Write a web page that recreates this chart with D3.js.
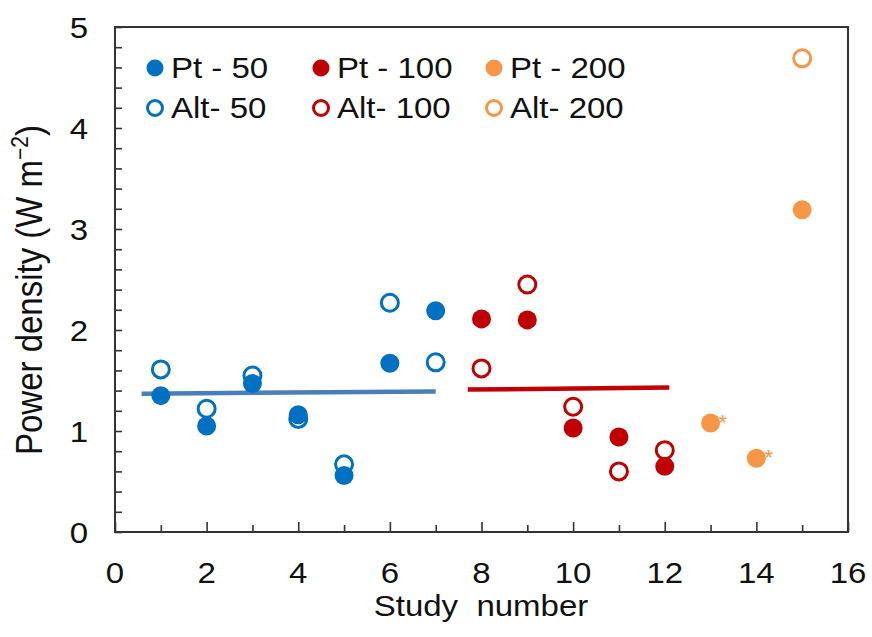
<!DOCTYPE html>
<html>
<head>
<meta charset="utf-8">
<script src="https://cdn.jsdelivr.net/npm/d3@7"></script>
<style>
  body { margin: 0; background: #fff; }
  text { font-family: "Liberation Sans", Arial, sans-serif; fill: #111; }
</style>
</head>
<body>
<svg id="grafico"></svg>
<script>
// dados
const estudos50 = [1, 2, 3, 4, 5, 6, 7]
const pt50 = [1.35, 1.05, 1.47, 1.16, 0.56, 1.67, 2.19]
const alt50 = [1.61, 1.22, 1.55, 1.12, 0.67, 2.27, 1.68]
const estudos100 = [8, 9, 10, 11, 12]
const pt100 = [2.11, 2.10, 1.03, 0.94, 0.65]
const alt100 = [1.62, 2.45, 1.24, 0.60, 0.81]
const estudos200 = [13, 14, 15]
const pt200 = [1.08, 0.73, 3.19]
const alt200 = [null, null, 4.69]
const asterisco200 = [13, 14]
// linhas de média
const media50 = [{x: 0.58, y: 1.37}, {x: 7.0, y: 1.39}]
const media100 = [{x: 7.7, y: 1.41}, {x: 12.1, y: 1.43}]
const ticksX = [0, 2, 4, 6, 8, 10, 12, 14, 16]
const ticksY = [0, 1, 2, 3, 4, 5]

const cores = {c50: '#0070C0', l50: '#4A7EBB', c100: '#C00000', c200: '#F79646'}

const largura = 872, altura = 637
const svg = d3.select('#grafico').attr('width', largura).attr('height', altura)

const margens = {esquerda: 115, direita: 24, superior: 27, inferior: 105}
const fnX = d3.scaleLinear().domain([0, 16]).range([margens.esquerda, largura - margens.direita])
const fnY = d3.scaleLinear().domain([0, 5]).range([altura - margens.inferior, margens.superior])

const corEixo = '#333'
const esticar = 1.1 // o texto da figura original é um pouco mais largo

// eixo X (ticks para dentro)
const eixoX = d3.axisBottom(fnX).tickValues(d3.range(0, 17, 1))
  .tickSize(0).tickFormat('')
const gX = svg.append('g').attr('transform', 'translate(0,' + fnY(0) + ')').call(eixoX)
gX.select('.domain').remove()
gX.selectAll('.tick line').remove()
gX.selectAll('.tick').append('line')
  .attr('y1', 0).attr('y2', d => d % 2 === 0 ? -10 : -7)
  .attr('stroke', corEixo).attr('stroke-width', 1.6)
svg.append('g').selectAll('text').data(ticksX).join('text')
  .attr('transform', d => 'translate(' + fnX(d) + ',' + (fnY(0) + 51) + ') scale(' + esticar + ',1)')
  .attr('text-anchor', 'middle').attr('font-size', 30)
  .text(d => d)

// eixo Y
const eixoY = d3.axisLeft(fnY).tickValues(d3.range(0, 5.001, 0.2)).tickSize(0).tickFormat('')
const gY = svg.append('g').attr('transform', 'translate(' + fnX(0) + ',0)').call(eixoY)
gY.select('.domain').remove()
gY.selectAll('.tick').append('line')
  .attr('x1', 0).attr('x2', 7)
  .attr('stroke', corEixo).attr('stroke-width', 1.6)
svg.append('g').selectAll('text').data(ticksY).join('text')
  .attr('transform', d => 'translate(88,' + (fnY(d) + 11) + ') scale(' + esticar + ',1)')
  .attr('text-anchor', 'end').attr('font-size', 30)
  .text(d => d)

// moldura
svg.append('rect')
  .attr('x', fnX(0)).attr('y', fnY(5))
  .attr('width', fnX(16) - fnX(0)).attr('height', fnY(0) - fnY(5))
  .attr('fill', 'none').attr('stroke', corEixo).attr('stroke-width', 2)

// títulos
svg.append('text')
  .attr('transform', 'translate(481,616) scale(' + esticar + ',1)')
  .attr('text-anchor', 'middle').attr('font-size', 30)
  .attr('xml:space', 'preserve')
  .text('Study  number')

const tituloY = svg.append('text')
  .attr('transform', 'translate(42,290) rotate(-90) scale(1,' + esticar + ')')
  .attr('text-anchor', 'middle').attr('font-size', 33)
tituloY.append('tspan').text('Power density (W m')
tituloY.append('tspan').attr('dy', -13).attr('font-size', 21).text('\u22122')
tituloY.append('tspan').attr('dy', 13).text(')')

// linhas de média
const linha = d3.line().x(d => fnX(d.x)).y(d => fnY(d.y))
svg.append('path').datum(media50).attr('d', linha)
  .attr('stroke', cores.l50).attr('stroke-width', 4.5).attr('fill', 'none')
svg.append('path').datum(media100).attr('d', linha)
  .attr('stroke', cores.c100).attr('stroke-width', 4.5).attr('fill', 'none')

// pontos
function pontos(xs, ys, cor, aberto) {
  const d = xs.map((x, i) => ({x: x, y: ys[i]})).filter(p => p.y !== null)
  svg.append('g').selectAll('circle').data(d).join('circle')
    .attr('cx', p => fnX(p.x)).attr('cy', p => fnY(p.y))
    .attr('r', aberto ? 8.5 : 9.5)
    .attr('fill', aberto ? 'none' : cor)
    .attr('stroke', aberto ? cor : 'none')
    .attr('stroke-width', 3)
}
pontos(estudos50, pt50, cores.c50, false)
pontos(estudos50, alt50, cores.c50, true)
pontos(estudos100, pt100, cores.c100, false)
pontos(estudos100, alt100, cores.c100, true)
pontos(estudos200, pt200, cores.c200, false)
pontos(estudos200, alt200, cores.c200, true)

// asteriscos
svg.append('g').selectAll('text').data(asterisco200).join('text')
  .attr('x', d => fnX(d) + 8)
  .attr('y', d => fnY(pt200[estudos200.indexOf(d)]) + 7)
  .attr('font-size', 22).style('fill', cores.c200)
  .text('*')

// legenda
const legenda = [
  {rotulo: 'Pt - 50', cor: cores.c50, aberto: false, x: 155, y: 68},
  {rotulo: 'Alt- 50', cor: cores.c50, aberto: true, x: 155, y: 108},
  {rotulo: 'Pt - 100', cor: cores.c100, aberto: false, x: 321, y: 68},
  {rotulo: 'Alt- 100', cor: cores.c100, aberto: true, x: 321, y: 108},
  {rotulo: 'Pt - 200', cor: cores.c200, aberto: false, x: 494, y: 68},
  {rotulo: 'Alt- 200', cor: cores.c200, aberto: true, x: 494, y: 108}
]
const itens = svg.append('g').selectAll('g').data(legenda).join('g')
  .attr('transform', d => 'translate(' + d.x + ',' + d.y + ')')
itens.append('circle')
  .attr('r', d => d.aberto ? 7.5 : 8.5)
  .attr('fill', d => d.aberto ? 'none' : d.cor)
  .attr('stroke', d => d.aberto ? d.cor : 'none')
  .attr('stroke-width', 3)
itens.append('text')
  .attr('transform', 'translate(16,10) scale(' + esticar + ',1)')
  .attr('font-size', 30)
  .attr('xml:space', 'preserve')
  .text(d => d.rotulo)
</script>
</body>
</html>
